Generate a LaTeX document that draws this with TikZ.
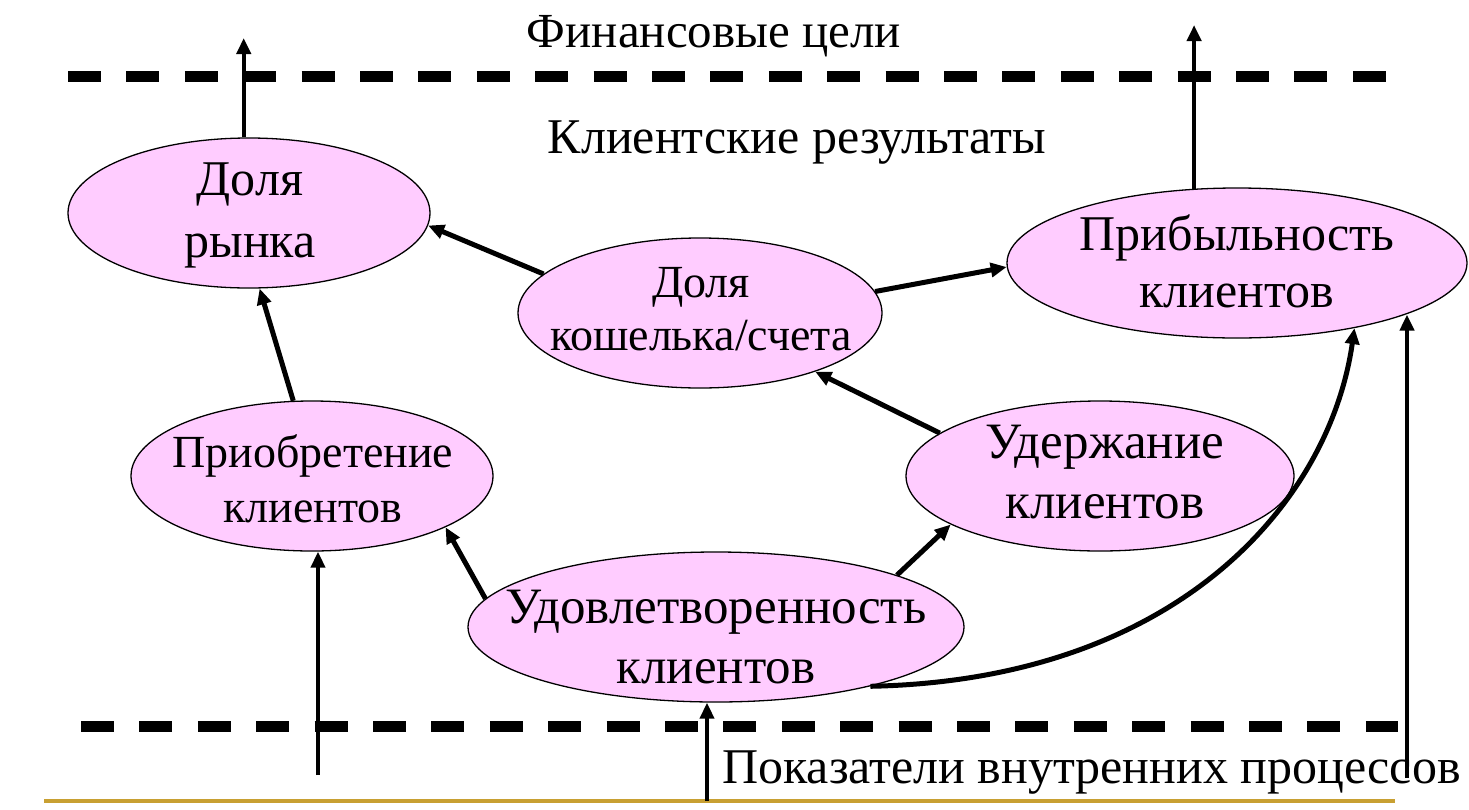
\documentclass[tikz,border=0pt]{standalone}
\usepackage{fontspec}
\setmainfont{Liberation Serif}
\usetikzlibrary{shapes.geometric,arrows.meta}
\definecolor{bubble}{RGB}{255,204,255}
\definecolor{gold}{RGB}{200,160,50}
\tikzset{
  bub/.style={ellipse,draw=black,line width=1.3pt,fill=bubble,inner sep=0pt},
  lbl/.style={anchor=base,align=center,inner sep=0pt},
  arr/.style={line width=5pt,-{Triangle[length=16pt,width=14pt]}},
  varr/.style={line width=4pt,-{Triangle[length=16pt,width=14pt]}},
  sep/.style={line width=11pt,dash pattern=on 33pt off 25.4pt}
}
\begin{document}
\begin{tikzpicture}[x=1pt,y=-1pt]
\useasboundingbox (0,0) rectangle (1469,809);
% separators
\draw[sep] (68,76) -- (1386,76);
\draw[sep] (81,726) -- (1398,726);
\draw[gold,line width=4pt] (44,801) -- (1395,801);
% headers
\node[lbl,font=\fontsize{49}{58}\selectfont] (fin) at (714,47) {Финансовые цели};
\node[lbl,font=\fontsize{50}{58}\selectfont] (cli) at (797,153) {Клиентские результаты};
\node[lbl,anchor=base west,font=\fontsize{50}{58}\selectfont] (proc) at (722,783) {Показатели внутренних процессов};
% ellipses
\node[bub,minimum width=362pt,minimum height=150pt] (D) at (249,213) {};
\node[bub,minimum width=364pt,minimum height=150pt] (K) at (700,313) {};
\node[bub,minimum width=460pt,minimum height=150pt] (P) at (1237,263) {};
\node[bub,minimum width=362pt,minimum height=150pt] (A) at (312,476) {};
\node[bub,minimum width=388pt,minimum height=150pt] (R) at (1100,476) {};
\node[bub,minimum width=496pt,minimum height=150pt] (S) at (716,627) {};
% texts (base anchor = baseline of last line)
\node[lbl,font=\fontsize{50}{62}\selectfont] (Dt) at (250,257) {Доля\\рынка};
\node[lbl,font=\fontsize{46}{53}\selectfont] (Kt) at (701,350) {Доля\\кошелька/счета};
\node[lbl,font=\fontsize{50}{57}\selectfont] (Pt) at (1237,307) {Прибыльность\\клиентов};
\node[lbl,font=\fontsize{46}{55}\selectfont] (At) at (313,522) {Приобретение\\клиентов};
\node[lbl,font=\fontsize{51}{60}\selectfont] (Rt) at (1105,518) {Удержание\\клиентов};
\node[lbl,font=\fontsize{51}{60}\selectfont] (St) at (716,683) {Удовлетворенность\\клиентов};
% connectors
\draw[arr] (K.166.4) -- (D.-4.4);
\draw[arr] (A.104.2) -- (D.-82.4);
\draw[arr] (K.7.8) -- (P.181);
\draw[arr] (R.165.3) -- (K.-27);
\draw[arr] (S.173.1) -- (A.-21.4);
\draw[arr] (S.16.4) -- (R.198);
\draw[arr] (S.-21.6) .. controls (1180,680) and (1330,500) .. (P.-29);
% vertical arrows
\coordinate (ftl) at (243,38);
\coordinate (ftr) at (1193,25);
\draw[varr] (D.94.6) -- (D.94.6 |- ftl);
\draw[varr] (P.120.7) -- (P.120.7 |- ftr);
\coordinate (ain) at (318,775);
\coordinate (sin) at (707,801);
\coordinate (pin) at (1407,778);
\draw[varr] (ain) -- (ain |- A.south);
\draw[varr] (sin) -- (sin |- S.south);
\draw[varr] (pin) -- (pin |- P.-17.6);
\end{tikzpicture}
\end{document}
